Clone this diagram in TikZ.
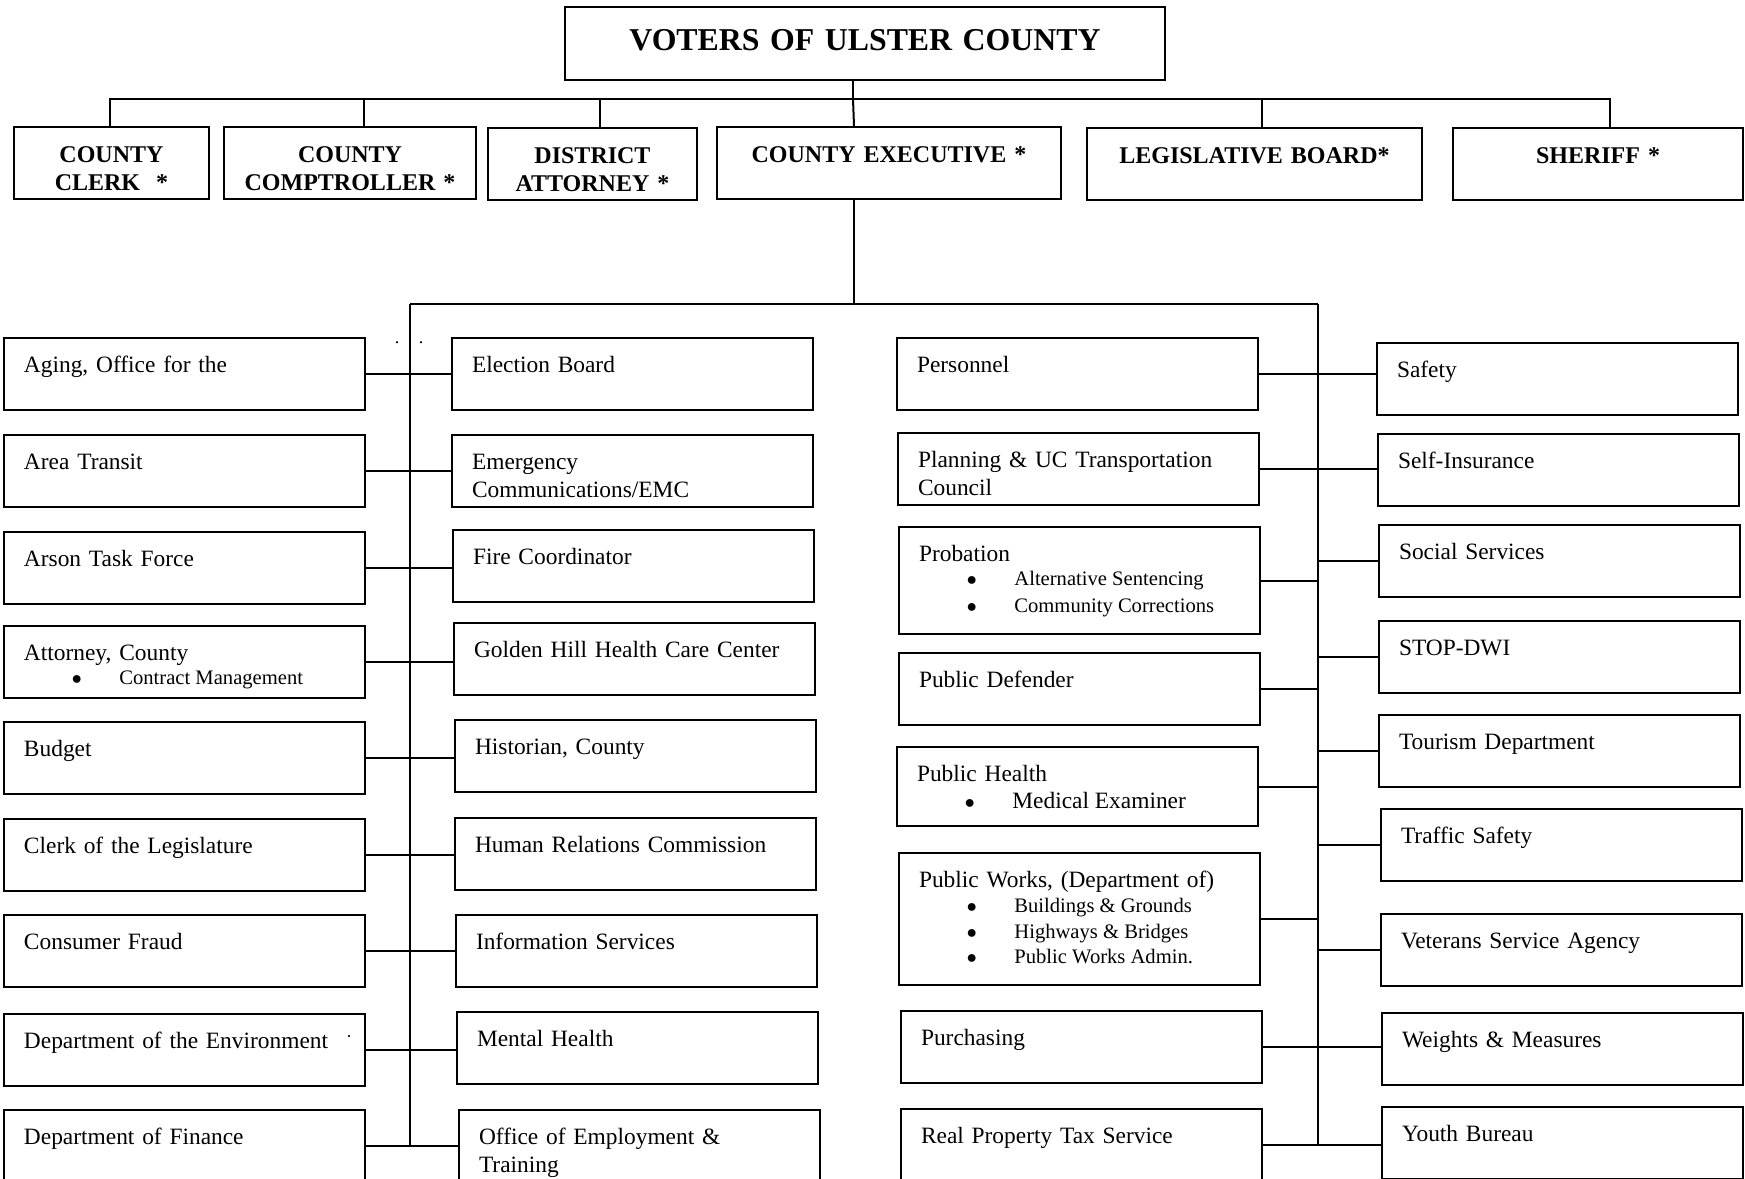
\documentclass[tikz,border=0pt]{standalone}
\usepackage{fontspec}
\setmainfont{Liberation Serif}
\newcommand{\blt}{\makebox[24pt][l]{\fontsize{9pt}{9pt}\selectfont ●}}

\begin{document}
\begin{tikzpicture}[
    x=0.5pt, y=-0.5pt,
    every node/.style={font=\fontsize{11.7pt}{14pt}\selectfont},
    head/.style={draw, line width=1pt, anchor=north west, inner sep=0pt, text width=#1, align=center,
                 text height=17.5pt, text depth=18.5pt, font=\fontsize{12pt}{14pt}\selectfont\bfseries},
    dept/.style={draw, line width=1pt, anchor=north west, inner xsep=10pt, inner ysep=0pt,
                 text width=160.5pt, align=left, text height=17pt, text depth=#1},
    dept/.default=19pt,
    item/.style={anchor=base west, inner sep=0pt, font=\fontsize{10.3pt}{12pt}\selectfont},
    speck/.style={inner sep=0pt, font=\fontsize{9pt}{9pt}\selectfont},
    link/.style={line width=1pt},
  ]
    \useasboundingbox (0,0) rectangle (1745,1178);
    \clip (0,0) rectangle (1745,1178);

    % voters and the elected offices
    \node[head=300pt, text height=21.75pt, text depth=14.75pt, font=\fontsize{15.9pt}{18pt}\selectfont\bfseries]
      (voters) at (564,6) {VOTERS OF ULSTER COUNTY};
    \node[head=97.5pt] (clerk) at (13,126) {COUNTY\\CLERK~ *};
    \node[head=126pt] (comptroller) at (223,126) {COUNTY\\COMPTROLLER *};
    \node[head=104.5pt] (distatty) at (487,127) {DISTRICT\\ATTORNEY *};
    \node[head=172pt] (exec) at (716,126) {COUNTY EXECUTIVE *};
    \node[head=167.5pt] (legis) at (1086,127) {LEGISLATIVE BOARD*};
    \node[head=145pt] (sheriff) at (1452,127) {SHERIFF *};

    % departments, first pair of columns
    \node[dept] (aging) at (3,337) {Aging, Office for the};
    \node[dept] (transit) at (3,434) {Area Transit};
    \node[dept] (arson) at (3,531) {Arson Task Force};
    \node[dept] (atty) at (3,625) {Attorney, County};
    \node[dept] (budget) at (3,721) {Budget};
    \node[dept] (clerkleg) at (3,818) {Clerk of the Legislature};
    \node[dept] (fraud) at (3,914) {Consumer Fraud};
    \node[dept] (environ) at (3,1013) {Department of the Environment};
    \node[dept] (finance) at (3,1109) {Department of Finance};

    \node[dept] (election) at (451,337) {Election Board};
    \node[dept] (emergency) at (451,434) {Emergency\\Communications/EMC};
    \node[dept] (fire) at (452,529) {Fire Coordinator};
    \node[dept] (goldenhill) at (453,622) {Golden Hill Health Care Center};
    \node[dept] (historian) at (454,719) {Historian, County};
    \node[dept] (humanrel) at (454,817) {Human Relations Commission};
    \node[dept] (infoserv) at (455,914) {Information Services};
    \node[dept] (mental) at (456,1011) {Mental Health};
    \node[dept] (employ) at (458,1109) {Office of Employment \&\\Training};

    % departments, second pair of columns
    \node[dept] (personnel) at (896,337) {Personnel};
    \node[dept] (planning) at (897,432) {Planning \& UC Transportation\\Council};
    \node[dept=36.5pt] (probation) at (898,526) {Probation};
    \node[dept] (defender) at (898,652) {Public Defender};
    \node[dept=22.5pt] (pubhealth) at (896,746) {Public Health};
    \node[dept=49pt] (pubworks) at (898,852) {Public Works, (Department of)};
    \node[dept] (purchasing) at (900,1010) {Purchasing};
    \node[dept] (realprop) at (900,1108) {Real Property Tax Service};

    \node[dept] (safety) at (1376,342) {Safety};
    \node[dept] (selfins) at (1377,433) {Self-Insurance};
    \node[dept] (social) at (1378,524) {Social Services};
    \node[dept] (stopdwi) at (1378,620) {STOP-DWI};
    \node[dept] (tourism) at (1378,714) {Tourism Department};
    \node[dept] (traffic) at (1380,808) {Traffic Safety};
    \node[dept] (veterans) at (1380,913) {Veterans Service Agency};
    \node[dept] (weights) at (1381,1012) {Weights \& Measures};
    \node[dept] (youth) at (1381,1106) {Youth Bureau};

    % sub-units
    \node[item] (contract) at ([shift={(68,59.3)}]atty.north west) {\blt Contract Management};
    \node[item] (altsent) at ([shift={(68,59.3)}]probation.north west) {\blt Alternative Sentencing};
    \node[item] (commcorr) at ([shift={(68,86)}]probation.north west) {\blt Community Corrections};
    \node[item, font=\fontsize{11.7pt}{14pt}\selectfont] (medexam) at ([shift={(68,62.6)}]pubhealth.north west) {\blt Medical Examiner};
    \node[item] (bldg) at ([shift={(68,60)}]pubworks.north west) {\blt Buildings \& Grounds};
    \node[item] (hwy) at ([shift={(68,86)}]pubworks.north west) {\blt Highways \& Bridges};
    \node[item] (pwadmin) at ([shift={(68,111.6)}]pubworks.north west) {\blt Public Works Admin.};

    % stray dots
    \node[speck, anchor=base] (dotl) at (397,343) {.};
    \node[speck, anchor=base] (dotr) at (421,343) {.};
    \node[speck] (envdot) at (349,1039) {·};

    % top bus
    \coordinate (topbus) at (853,99);
    \draw[link] (voters.south -| topbus) -- (topbus);
    \draw[link] ([shift={(-1.5,0)}]clerk.north) |- (topbus);
    \draw[link] ([shift={(14,0)}]comptroller.north) |- (topbus);
    \draw[link] ([shift={(7.5,0)}]distatty.north) |- (topbus);
    \draw[link] ([shift={(-35,0)}]exec.north) -- (topbus);
    \draw[link] ([shift={(7.5,0)}]legis.north) |- (topbus);
    \draw[link] ([shift={(12,0)}]sheriff.north) |- (topbus);

    % executive trunks
    \coordinate (ltrunk) at (410,304);
    \coordinate (rtrunk) at (1318,304);
    \draw[link] ([shift={(-35,0)}]exec.south) -- ([shift={(-35,0)}]exec.south |- ltrunk);
    \draw[link] (ltrunk) -- (rtrunk);
    \draw[link] (ltrunk) -- (ltrunk |- finance.east);
    \draw[link] (rtrunk) -- (rtrunk |- realprop.east);

    % branches
    \foreach \a/\b in {aging/election, transit/emergency, arson/fire, atty/goldenhill, budget/historian,
                       clerkleg/humanrel, fraud/infoserv, environ/mental, finance/employ,
                       personnel/safety, planning/selfins, purchasing/weights, realprop/youth}
      \draw[link] (\a.east) -- (\a.east -| \b.west);
    \foreach \a in {probation, defender, pubhealth, pubworks}
      \draw[link] (\a.east) -- (\a.east -| rtrunk);
    \foreach \b in {social, stopdwi, tourism, traffic, veterans}
      \draw[link] (\b.west) -- (\b.west -| rtrunk);
\end{tikzpicture}
\end{document}
